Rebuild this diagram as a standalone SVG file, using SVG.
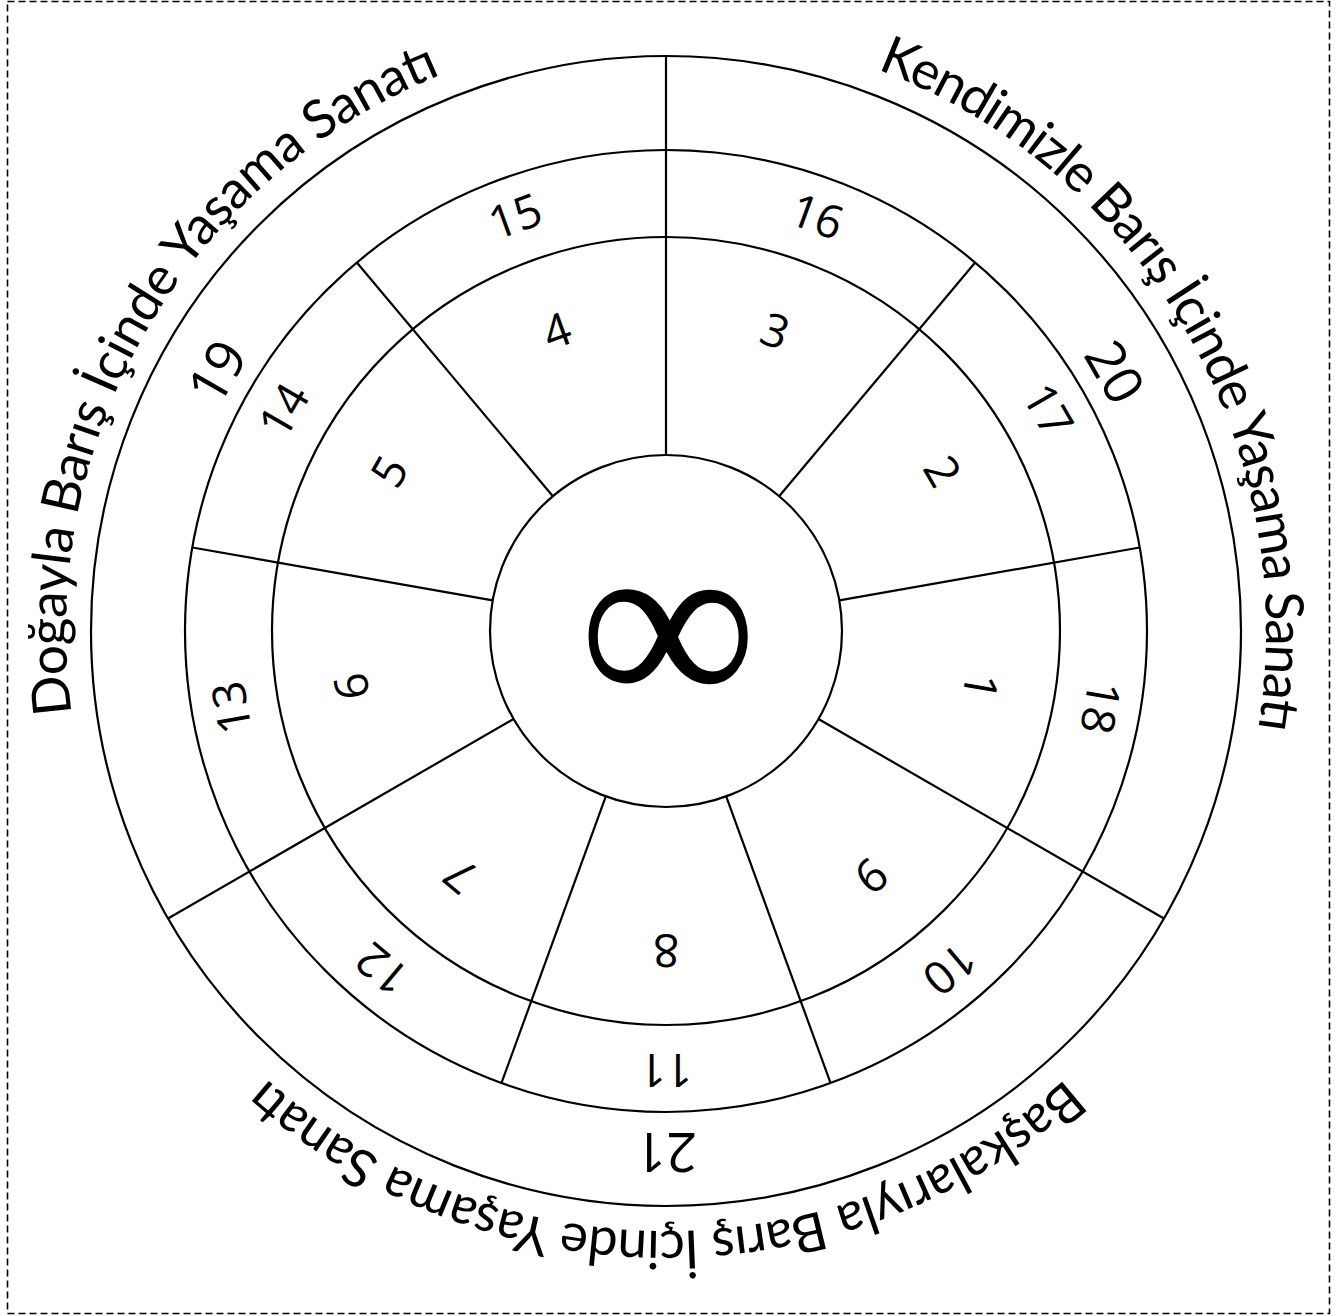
<svg xmlns="http://www.w3.org/2000/svg" width="1337" height="1316" viewBox="0 0 1337 1316">
<style>
.ln{fill:none;stroke:#000;stroke-width:2.2}
.num{font-family:"Open Sans","Noto Sans",sans-serif;font-size:46px;text-anchor:middle;fill:#000}
.big{font-family:"Open Sans","Noto Sans",sans-serif;font-size:54px;text-anchor:middle;fill:#000}
.arc{font-family:Lato,"Open Sans",sans-serif;font-size:53px;fill:#000}
</style>
<defs>
<path id="ring" d="M 666 31 A 600 600 0 1 1 666 1231 A 600 600 0 1 1 666 31"/>
</defs>
<rect x="7.5" y="1.5" width="1322" height="1312" fill="#fff" stroke="#000" stroke-width="1.6" stroke-dasharray="7 4"/>
<g id="rings">
<circle class="ln" cx="666" cy="631" r="575"/>
<circle class="ln" cx="666" cy="631" r="481"/>
<circle class="ln" cx="666" cy="631" r="394"/>
</g>
<g id="dividers" class="ln">
<line x1="0" y1="-176" x2="0" y2="-575" transform="translate(666 631) rotate(0)"/>
<line x1="0" y1="-176" x2="0" y2="-481" transform="translate(666 631) rotate(40)"/>
<line x1="0" y1="-176" x2="0" y2="-481" transform="translate(666 631) rotate(80)"/>
<line x1="0" y1="-176" x2="0" y2="-575" transform="translate(666 631) rotate(120)"/>
<line x1="0" y1="-176" x2="0" y2="-481" transform="translate(666 631) rotate(160)"/>
<line x1="0" y1="-176" x2="0" y2="-481" transform="translate(666 631) rotate(200)"/>
<line x1="0" y1="-176" x2="0" y2="-575" transform="translate(666 631) rotate(240)"/>
<line x1="0" y1="-176" x2="0" y2="-481" transform="translate(666 631) rotate(280)"/>
<line x1="0" y1="-176" x2="0" y2="-481" transform="translate(666 631) rotate(320)"/>
</g>
<g id="center">
<circle class="ln" cx="666" cy="631" r="176"/>
<text x="668" y="709" font-family="'Liberation Serif',serif" font-size="250" text-anchor="middle">∞</text>
</g>
<g id="inner-ring">
<g id="seg-1" transform="translate(666 631) rotate(100) translate(0 -319)"><text class="num" y="16">1</text></g>
<g id="seg-2" transform="translate(666 631) rotate(60) translate(0 -319)"><text class="num" y="16">2</text></g>
<g id="seg-3" transform="translate(666 631) rotate(20) translate(0 -319)"><text class="num" y="16">3</text></g>
<g id="seg-4" transform="translate(666 631) rotate(340) translate(0 -319)"><text class="num" y="16">4</text></g>
<g id="seg-5" transform="translate(666 631) rotate(300) translate(0 -319)"><text class="num" y="16">5</text></g>
<g id="seg-6" transform="translate(666 631) rotate(260) translate(0 -319)"><text class="num" y="16">6</text></g>
<g id="seg-7" transform="translate(666 631) rotate(220) translate(0 -319)"><text class="num" y="16">7</text></g>
<g id="seg-8" transform="translate(666 631) rotate(180) translate(0 -319)"><text class="num" y="16">8</text></g>
<g id="seg-9" transform="translate(666 631) rotate(140) translate(0 -319)"><text class="num" y="16">9</text></g>
</g>
<g id="middle-ring">
<g id="seg-10" transform="translate(666 631) rotate(140) translate(0 -441)"><text class="num" y="16">10</text></g>
<g id="seg-11" transform="translate(666 631) rotate(180) translate(0 -439)"><text class="num" y="16">11</text></g>
<g id="seg-12" transform="translate(666 631) rotate(220) translate(0 -441)"><text class="num" y="16">12</text></g>
<g id="seg-13" transform="translate(666 631) rotate(260) translate(0 -441)"><text class="num" y="16">13</text></g>
<g id="seg-14" transform="translate(666 631) rotate(300) translate(0 -441)"><text class="num" y="16">14</text></g>
<g id="seg-15" transform="translate(666 631) rotate(340) translate(0 -441)"><text class="num" y="16">15</text></g>
<g id="seg-16" transform="translate(666 631) rotate(20) translate(0 -441)"><text class="num" y="16">16</text></g>
<g id="seg-17" transform="translate(666 631) rotate(60) translate(0 -441)"><text class="num" y="16">17</text></g>
<g id="seg-18" transform="translate(666 631) rotate(100) translate(0 -441)"><text class="num" y="16">18</text></g>
</g>
<g id="outer-ring">
<g id="seg-19" transform="translate(666 631) rotate(300) translate(0 -518)"><text class="big" y="19">19</text></g>
<g id="seg-20" transform="translate(666 631) rotate(60) translate(0 -518)"><text class="big" y="19">20</text></g>
<g id="seg-21" transform="translate(666 631) rotate(180) translate(0 -521)"><text class="big" y="19">21</text></g>
</g>
<g id="titles">
<text class="arc"><textPath href="#ring" startOffset="628.3" text-anchor="middle" textLength="825" lengthAdjust="spacing">Kendimizle Barış İçinde Yaşama Sanatı</textPath></text>
<text class="arc"><textPath href="#ring" startOffset="1885" text-anchor="middle" textLength="875" lengthAdjust="spacing">Başkalarıyla Barış İçinde Yaşama Sanatı</textPath></text>
<text class="arc"><textPath href="#ring" startOffset="3141.6" text-anchor="middle" textLength="795" lengthAdjust="spacing">Doğayla Barış İçinde Yaşama Sanatı</textPath></text>
</g>
</svg>
